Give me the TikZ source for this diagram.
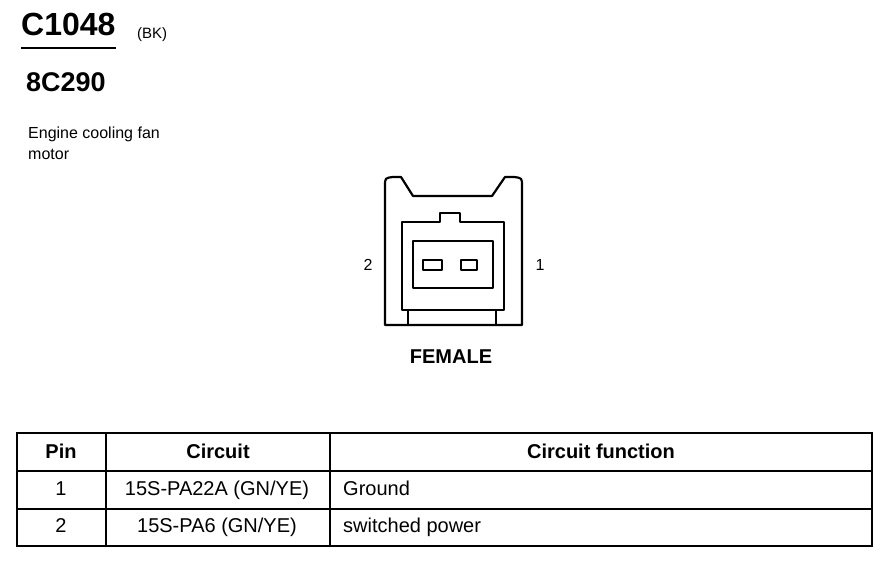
\documentclass[tikz,border=0pt]{standalone}
\usepackage{fontspec}
\setmainfont{Liberation Sans}

\begin{document}
\begin{tikzpicture}[x=1pt, y=-1pt,
  lbl/.style={inner sep=0pt, font=\fontsize{20}{20}\selectfont},
  hlbl/.style={inner sep=0pt, font=\bfseries\fontsize{20}{20}\selectfont},
  part/.style={draw, line width=2.2pt, line join=round},
  grid/.style={draw, line width=2.4pt}]
  \useasboundingbox (0,0) rectangle (880,576);

  \node[inner sep=0pt, anchor=base west, font=\bfseries\fontsize{32}{32}\selectfont] (code) at (21,35) {C1048};
  \node[inner sep=0pt, anchor=base west, font=\fontsize{15}{15}\selectfont] (colour) at (137,38) {(BK)};
  \draw[line width=2pt] (code.base west |- 0,48) -- (code.base east |- 0,48);
  \node[inner sep=0pt, anchor=base west, font=\bfseries\fontsize{27}{27}\selectfont] (partno) at (26,91) {8C290};
  \node[inner sep=0pt, anchor=base west, font=\fontsize{16}{16}\selectfont] (desc) at (28,138) {Engine cooling fan};
  \node[inner sep=0pt, anchor=base west, font=\fontsize{16}{16}\selectfont] (desc2) at (28,159) {motor};

  \draw[part] (385,325) -- (385,186) .. controls (385,178) .. (393,177) -- (401,177)
    -- (413,196) -- (492,196) -- (505,177) -- (514,177) .. controls (522,178) .. (522,186)
    -- (522,325) -- cycle;
  \draw[part] (402,310) -- (402,222) -- (440,222) -- (440,213) -- (460,213)
    -- (460,222) -- (504,222) -- (504,310) -- cycle;
  \draw[part] (408,310) rectangle (496,325);
  \draw[part] (413,241) rectangle (493,288);
  \draw[part, line width=2.6pt] (423,260) rectangle (442,270);
  \draw[part, line width=2.6pt] (461,260) rectangle (477,270);
  \node[inner sep=0pt, anchor=base, font=\fontsize{16}{16}\selectfont] (pin2) at (368,270) {2};
  \node[inner sep=0pt, anchor=base, font=\fontsize{16}{16}\selectfont] (pin1) at (540,270) {1};
  \node[hlbl, anchor=base] (female) at (451,363) {FEMALE};

  \draw[grid] (17,433) rectangle (872,546);
  \draw[grid] (17,471) -- (872,471);
  \draw[grid] (17,509) -- (872,509);
  \draw[grid] (106,433) -- (106,546);
  \draw[grid] (330,433) -- (330,546);

  \node[hlbl, anchor=base] (hpin) at (61,458) {Pin};
  \node[hlbl, anchor=base] (hcirc) at (218,458) {Circuit};
  \node[hlbl, anchor=base] (hfunc) at (601,458) {Circuit function};
  \node[lbl, anchor=base] (pinA) at (61,495) {1};
  \node[lbl, anchor=base] (circA) at (217,495) {15S-PA22A (GN/YE)};
  \node[lbl, anchor=base west] (funcA) at (343,495) {Ground};
  \node[lbl, anchor=base] (pinB) at (61,532) {2};
  \node[lbl, anchor=base] (circB) at (217,532) {15S-PA6 (GN/YE)};
  \node[lbl, anchor=base west] (funcB) at (343,532) {switched power};
\end{tikzpicture}
\end{document}
